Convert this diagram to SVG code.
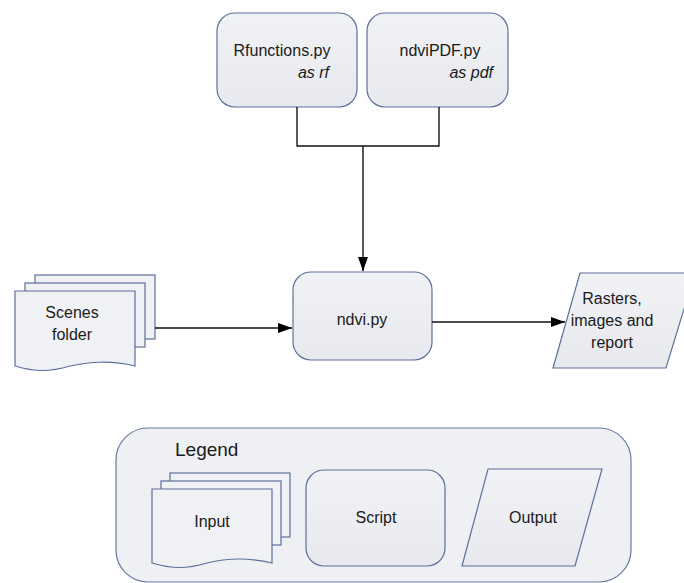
<svg xmlns="http://www.w3.org/2000/svg" width="684" height="583" viewBox="0 0 684 583">
  <defs>
    <linearGradient id="fill" x1="0" y1="0" x2="0" y2="1">
      <stop offset="0" stop-color="#f1f2f5"/>
      <stop offset="1" stop-color="#e8e9ee"/>
    </linearGradient>
    <marker id="arrow" viewBox="0 0 14 10" refX="14" refY="5" markerWidth="14" markerHeight="10" markerUnits="userSpaceOnUse" orient="auto">
      <path d="M0,0 L14,5 L0,10 Z" fill="#000"/>
    </marker>
  </defs>
  <style>
    .shape { fill: url(#fill); stroke: #5d6f9a; stroke-width: 1.2; }
    .page { fill: #f0f1f5; stroke: #5d6f9a; stroke-width: 1.2; }
    .legendbox { fill: #eef0f4; stroke: #6a7aa0; stroke-width: 1.2; }
    .t { font-family: "Liberation Sans", Arial, sans-serif; font-size: 16px; fill: #1a1a1a; }
    .c { text-anchor: middle; }
    .r { text-anchor: end; font-style: italic; }
    .wire { fill: none; stroke: #111; stroke-width: 1.4; }
  </style>
  <rect width="684" height="583" fill="#ffffff"/>

  <!-- module imports -->
  <g id="rfunctions">
    <rect class="shape" x="217" y="13" width="140" height="94" rx="18"/>
    <text class="t c" x="282" y="56">Rfunctions.py</text>
    <text class="t r" x="329" y="78">as rf</text>
  </g>
  <g id="ndvipdf">
    <rect class="shape" x="367" y="13" width="141" height="94" rx="18"/>
    <text class="t c" x="440" y="56">ndviPDF.py</text>
    <text class="t r" x="493" y="78">as pdf</text>
  </g>

  <!-- main script -->
  <g id="ndvi">
    <rect class="shape" x="293" y="272" width="139" height="88" rx="18"/>
    <text class="t c" x="362" y="325">ndvi.py</text>
  </g>

  <!-- input scenes (stacked documents) -->
  <g id="scenes">
    <rect class="page" x="35" y="275" width="120" height="64"/>
    <rect class="page" x="25" y="283" width="120" height="64"/>
    <path class="page" d="M15,291 H135 V366 C110,360 90,362 70,366 C50,372 35,372 15,366 Z"/>
    <text class="t c" x="72" y="318">Scenes</text>
    <text class="t c" x="72" y="340">folder</text>
  </g>

  <!-- output -->
  <g id="outputs">
    <polygon class="shape" points="553,368 580,273 695,273 666,368"/>
    <text class="t c" x="612" y="304">Rasters,</text>
    <text class="t c" x="612" y="326">images and</text>
    <text class="t c" x="612" y="348">report</text>
  </g>

  <!-- connectors -->
  <g id="connectors">
    <path class="wire" d="M297,107 V146 H439 V107"/>
    <path class="wire" d="M363,146 V271" marker-end="url(#arrow)"/>
    <path class="wire" d="M155,328 H292" marker-end="url(#arrow)"/>
    <path class="wire" d="M432,322 H565" marker-end="url(#arrow)"/>
  </g>

  <!-- legend -->
  <g id="legend">
    <rect class="legendbox" x="116" y="428" width="515" height="154" rx="32"/>
    <text class="t" x="175" y="456" style="font-size:19px">Legend</text>
    <g id="legend-input">
      <rect class="page" x="170" y="473" width="120" height="64"/>
      <rect class="page" x="161" y="481" width="120" height="64"/>
      <path class="page" d="M152,489 H272 V563 C247,557 227,558 207,563 C187,569 172,569 152,563 Z"/>
      <text class="t c" x="212" y="527">Input</text>
    </g>
    <g id="legend-script">
      <rect class="shape" x="306" y="470" width="139" height="96" rx="18"/>
      <text class="t c" x="376" y="523">Script</text>
    </g>
    <g id="legend-output">
      <polygon class="shape" points="462,566 488,469 602,469 575,566"/>
      <text class="t c" x="533" y="523">Output</text>
    </g>
  </g>
</svg>
